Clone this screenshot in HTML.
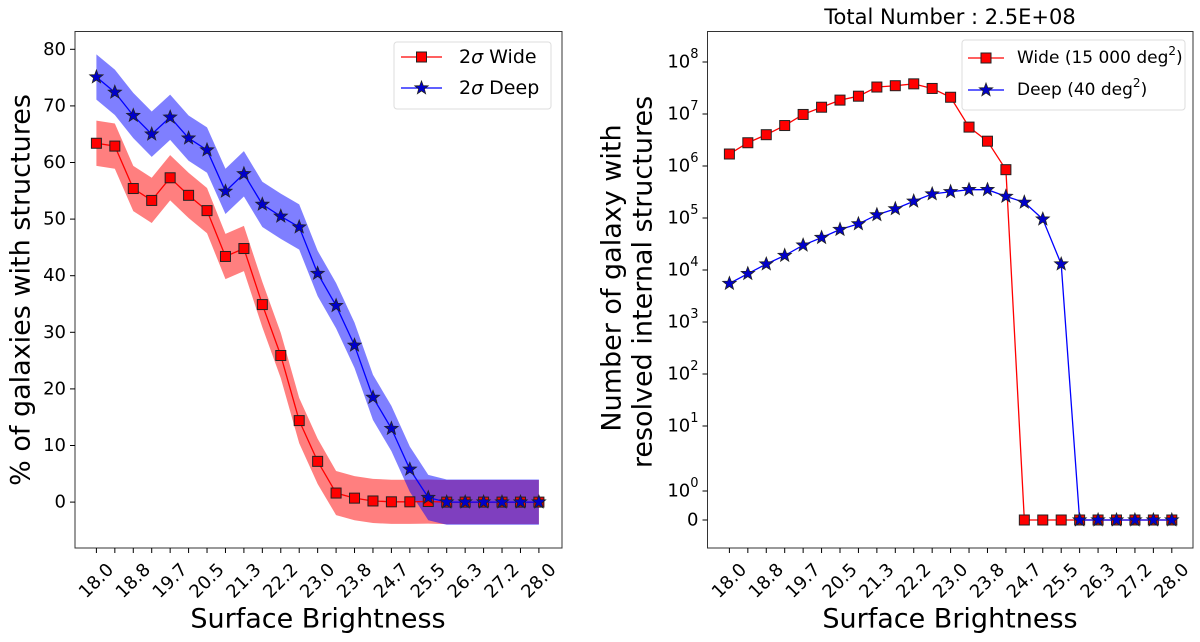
<!DOCTYPE html>
<html><head><meta charset="utf-8"><style>
html,body{margin:0;padding:0;background:#fff;}
svg{display:block;font-family:"DejaVu Sans","Liberation Sans",sans-serif;}
</style></head><body>
<svg id="chart" width="1200" height="642" viewBox="0 0 1200 642" xmlns="http://www.w3.org/2000/svg"></svg>
<script>
const xValues = Array.from({length:25},(_,i)=>18+i*10/24);
const xTickLabels = ["18.0","18.8","19.7","20.5","21.3","22.2","23.0","23.8","24.7","25.5","26.3","27.2","28.0"];
const leftYTicks = [0,10,20,30,40,50,60,70,80];
const widePct = [63.4,62.9,55.4,53.3,57.3,54.2,51.5,43.4,44.8,34.9,25.9,14.4,7.2,1.6,0.7,0.2,0.05,0.05,0.1,0,0,0,0,0,0];
const deepPct = [75.1,72.4,68.3,65.0,68.0,64.3,62.2,54.9,58.0,52.6,50.5,48.6,40.4,34.7,27.7,18.5,13.0,5.8,0.8,0,0,0,0,0,0];
const wideErr = [4,4,4,4,4,4,4,4,4,4,4,4,4,3.9,3.9,3.9,3.9,3.9,3.9,3.9,3.9,3.9,3.9,3.9,3.9];
const deepErr = [4,4,4,4,4,4,4,4,4,4,4,4,4,4,4,4,4,4,4,4,4,4,4,4,4];
const wideCount = [1.7e6,2.8e6,4e6,6e6,9.8e6,1.35e7,1.85e7,2.2e7,3.3e7,3.5e7,3.8e7,3.1e7,2.1e7,5.6e6,3e6,8.5e5,0,0,0,0,0,0,0,0,0];
const deepCount = [5.5e3,8.5e3,1.3e4,1.9e4,3e4,4.2e4,6e4,7.7e4,1.15e5,1.5e5,2.1e5,2.9e5,3.2e5,3.5e5,3.5e5,2.6e5,2e5,9.5e4,1.3e4,0,0,0,0,0,0];
const rightYTicks = [0,1,10,100,1e3,1e4,1e5,1e6,1e7,1e8];
const rightYTickExp = ["0","0","1","2","3","4","5","6","7","8"];

const NS="http://www.w3.org/2000/svg";
const svg=document.getElementById('chart');
function el(tag,attrs,parent){const e=document.createElementNS(NS,tag);for(const k in attrs)e.setAttribute(k,attrs[k]);(parent||svg).appendChild(e);return e;}

const L={x0:75,x1:562,y0:31.5,y1:548};
const lx=v=>96.4+(v-18)/10*442.5;
const ly=v=>502.1-v*5.66;
const R={x0:707.5,x1:1193,y0:31.5,y1:548};
const rx=v=>729.4+(v-18)/10*442.4;
function ry(v){if(v<=0)return 520;if(v<1)return 520-29*v;if(v<10)return 491-Math.log10(v)*65;return 426-(Math.log10(v)-1)*52.0;}

function star(cx,cy,r){let p=[];for(let k=0;k<10;k++){const a=-Math.PI/2+k*Math.PI/5;const rr=k%2?r*0.42:r;p.push((cx+rr*Math.cos(a)).toFixed(1)+','+(cy+rr*Math.sin(a)).toFixed(1));}return p.join(' ');}

function xAxis(g,xf,ax){
  xValues.forEach((v,i)=>{
    const t=el('line',{x1:xf(v),x2:xf(v),y1:ax.y1,y2:ax.y1+5,stroke:'#000','stroke-width':1},g);
    
    
    if(i%2===0){
      const tx=el('text',{x:0,y:0,'font-size':18,'text-anchor':'middle','dominant-baseline':'central',transform:`translate(${xf(v)},581) rotate(-45)`},g);
      tx.textContent=xTickLabels[i/2];
      
      
    }
  });
}

const gL=el('g',{});


function band(vals,err,color){
  let up=vals.map((v,i)=>lx(xValues[i])+','+ly(v+err[i]));
  let dn=vals.map((v,i)=>lx(xValues[i])+','+ly(v-err[i])).reverse();
  return el('polygon',{points:up.concat(dn).join(' '),fill:color,'fill-opacity':0.5},gL);
}
const bw=band(widePct,wideErr,'#ff0000');


const bd=band(deepPct,deepErr,'#0000ff');


const lw=el('polyline',{points:widePct.map((v,i)=>lx(xValues[i])+','+ly(v)).join(' '),fill:'none',stroke:'#ff0000','stroke-width':1.3},gL);


widePct.forEach((v,i)=>{const m=el('rect',{x:lx(xValues[i])-5,y:ly(v)-5,width:10,height:10,fill:'#ff0000',stroke:'#222','stroke-width':1},gL);

});
const ld=el('polyline',{points:deepPct.map((v,i)=>lx(xValues[i])+','+ly(v)).join(' '),fill:'none',stroke:'#0000ff','stroke-width':1.3},gL);


deepPct.forEach((v,i)=>{const m=el('polygon',{points:star(lx(xValues[i]),ly(v),7),fill:'#0000cc',stroke:'#222','stroke-width':0.8},gL);

});
const fL=el('rect',{x:L.x0,y:L.y0,width:L.x1-L.x0,height:L.y1-L.y0,fill:'none',stroke:'#333','stroke-width':1},gL);


leftYTicks.forEach(v=>{
  const t=el('line',{x1:L.x0-5,x2:L.x0,y1:ly(v),y2:ly(v),stroke:'#000'},gL);
  
  
  const tx=el('text',{x:L.x0-9,y:ly(v),'font-size':18,'text-anchor':'end','dominant-baseline':'central'},gL);
  tx.textContent=v;
  
  
});
xAxis(gL,lx,L);
const ylL=el('text',{x:0,y:0,'font-size':27,'text-anchor':'middle','dominant-baseline':'central',transform:'translate(21,290) rotate(-90)'},gL);
ylL.textContent='% of galaxies with structures';


const xlL=el('text',{x:318,y:619,'font-size':27,'text-anchor':'middle','dominant-baseline':'central'},gL);
xlL.textContent='Surface Brightness';


const lgL=el('g',{},gL);


el('rect',{x:394,y:42,width:157,height:67,rx:3,fill:'#fff',stroke:'#ddd'},lgL);
el('line',{x1:401,x2:442,y1:57,y2:57,stroke:'#ff0000','stroke-width':1.3},lgL);
el('rect',{x:416.5,y:52,width:10,height:10,fill:'#ff0000',stroke:'#222'},lgL);
let t1=el('text',{x:459,y:57,'font-size':19,'dominant-baseline':'central'},lgL);t1.innerHTML='2<tspan font-style="italic">σ</tspan> Wide';


el('line',{x1:401,x2:442,y1:88,y2:88,stroke:'#0000ff','stroke-width':1.3},lgL);
el('polygon',{points:star(421.5,88,7),fill:'#0000cc',stroke:'#222','stroke-width':0.8},lgL);
let t2=el('text',{x:459,y:88,'font-size':19,'dominant-baseline':'central'},lgL);t2.innerHTML='2<tspan font-style="italic">σ</tspan> Deep';



const gR=el('g',{});


const rw=el('polyline',{points:wideCount.map((v,i)=>rx(xValues[i])+','+ry(v)).join(' '),fill:'none',stroke:'#ff0000','stroke-width':1.3},gR);


wideCount.forEach((v,i)=>{const m=el('rect',{x:rx(xValues[i])-5,y:ry(v)-5,width:10,height:10,fill:'#ff0000',stroke:'#222'},gR);

});
const rd=el('polyline',{points:deepCount.map((v,i)=>rx(xValues[i])+','+ry(v)).join(' '),fill:'none',stroke:'#0000ff','stroke-width':1.3},gR);


deepCount.forEach((v,i)=>{const m=el('polygon',{points:star(rx(xValues[i]),ry(v),7),fill:'#0000cc',stroke:'#222','stroke-width':0.8},gR);

});
const fR=el('rect',{x:R.x0,y:R.y0,width:R.x1-R.x0,height:R.y1-R.y0,fill:'none',stroke:'#333'},gR);


rightYTicks.forEach((v,i)=>{
  const t=el('line',{x1:R.x0-5,x2:R.x0,y1:ry(v),y2:ry(v),stroke:'#000'},gR);
  
  
  const tx=el('text',{x:R.x0-9,y:ry(v),'font-size':18,'text-anchor':'end','dominant-baseline':'central'},gR);
  if(v===0) tx.textContent='0';
  else tx.innerHTML='10<tspan dy="-8" font-size="13">'+rightYTickExp[i]+'</tspan>';
  
  
});
xAxis(gR,rx,R);
const yr1=el('text',{x:0,y:0,'font-size':27,'text-anchor':'middle','dominant-baseline':'central',transform:'translate(612,278) rotate(-90)'},gR);
yr1.textContent='Number of galaxy with';


const yr2=el('text',{x:0,y:0,'font-size':27,'text-anchor':'middle','dominant-baseline':'central',transform:'translate(643,282) rotate(-90)'},gR);
yr2.textContent='resolved internal structures';


const xlR=el('text',{x:950,y:619,'font-size':27,'text-anchor':'middle','dominant-baseline':'central'},gR);
xlR.textContent='Surface Brightness';


const title=el('text',{x:950,y:17,'font-size':21,'text-anchor':'middle','dominant-baseline':'central'},gR);
title.textContent='Total Number : 2.5E+08';


const lgR=el('g',{},gR);


el('rect',{x:962,y:40,width:223,height:70,rx:3,fill:'#fff',stroke:'#ddd'},lgR);
el('line',{x1:968,x2:1004,y1:58,y2:58,stroke:'#ff0000','stroke-width':1.3},lgR);
el('rect',{x:981,y:53,width:10,height:10,fill:'#ff0000',stroke:'#222'},lgR);
let t3=el('text',{x:1017,y:58,'font-size':17,'dominant-baseline':'central'},lgR);t3.innerHTML='Wide (15 000 deg<tspan dy="-7" font-size="12">2</tspan><tspan dy="7">)</tspan>';


el('line',{x1:968,x2:1004,y1:90,y2:90,stroke:'#0000ff','stroke-width':1.3},lgR);
el('polygon',{points:star(986,90,7),fill:'#0000cc',stroke:'#222','stroke-width':0.8},lgR);
let t4=el('text',{x:1017,y:90,'font-size':17,'dominant-baseline':'central'},lgR);t4.innerHTML='Deep (40 deg<tspan dy="-7" font-size="12">2</tspan><tspan dy="7">)</tspan>';


</script>
</body></html>
